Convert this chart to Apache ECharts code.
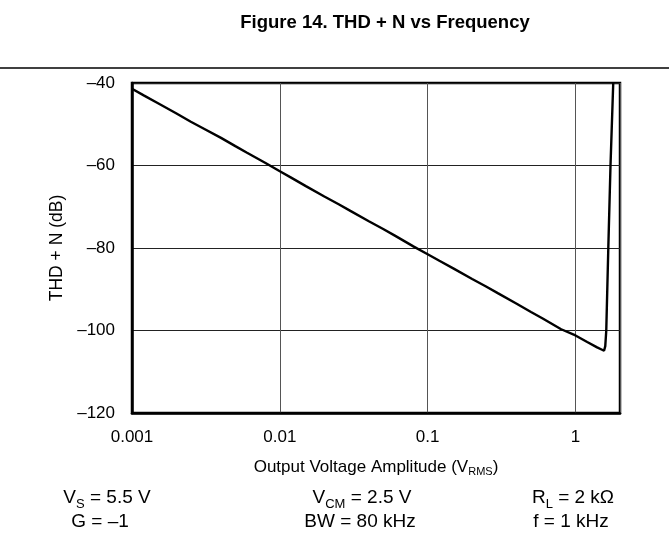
<!DOCTYPE html>
<html>
<head>
<meta charset="utf-8">
<script src="https://cdn.jsdelivr.net/npm/echarts@6/dist/echarts.min.js"></script>
<style>
  html, body { margin: 0; padding: 0; background: #fff; }
  #chart { width: 669px; height: 539px; }
</style>
</head>
<body>
<div id="chart"></div>
<script>
// output voltage (Vrms) and THD+N (dB)
var voltages = [0.001, 0.0012, 0.0015, 0.002, 0.0025, 0.003, 0.004, 0.005, 0.006, 0.008,
  0.01, 0.012, 0.015, 0.02, 0.025, 0.03, 0.04, 0.05, 0.06, 0.08,
  0.1, 0.12, 0.15, 0.2, 0.25, 0.3, 0.4, 0.5, 0.6, 0.8,
  1.0, 1.2, 1.4, 1.5, 1.56, 1.59, 1.615, 1.667, 1.725, 1.8];
var thdn = [-41.4, -43.0, -44.9, -47.4, -49.4, -50.9, -53.3, -55.3, -56.9, -59.4,
  -61.4, -63.0, -65.0, -67.5, -69.4, -71.0, -73.5, -75.4, -77.0, -79.6,
  -81.5, -83.1, -85.0, -87.5, -89.4, -91.0, -93.5, -95.5, -97.1, -99.7,
  -101.2, -102.8, -104.1, -104.6, -104.9, -103.8, -100, -80, -60, -40];
var xTickLabels = ['0.001', '0.01', '0.1', '1'];
var yTicks = [-120, -100, -80, -60, -40];

var font = '"Liberation Sans", Arial, sans-serif';
var myChart = echarts.init(document.getElementById('chart'));

var pts = [];
for (var i = 0; i < voltages.length; i++) {
  pts.push([voltages[i], thdn[i]]);
}

var condStyle = {
  fontFamily: font, fontSize: 19, fill: '#000', align: 'center', verticalAlign: 'middle',
  rich: {
    m: { fontFamily: font, fontSize: 19, lineHeight: 22, verticalAlign: 'top' },
    s: { fontFamily: font, fontSize: 13, lineHeight: 13, padding: [10, 0, 0, 0], verticalAlign: 'top' }
  }
};
function cond(x, y, txt) {
  return { type: 'text', x: x, y: y, style: Object.assign({}, condStyle, { text: txt }) };
}

myChart.setOption({
  animation: false,
  backgroundColor: '#fff',
  title: {
    text: 'Figure 14. THD + N vs Frequency',
    left: 380, top: 8, textAlign: 'center',
    textStyle: { fontFamily: font, fontSize: 18.5, fontWeight: 'bold', color: '#000' }
  },
  grid: {
    left: 132, right: 49, top: 83, bottom: 126,
    show: true, borderColor: '#000', borderWidth: 2.5, backgroundColor: 'transparent'
  },
  xAxis: {
    type: 'log', logBase: 10, min: 0.001, max: 2,
    name: '{m|Output Voltage Amplitude (V}{s|RMS}{m|)}',
    nameLocation: 'middle', nameGap: 45,
    nameTextStyle: {
      fontFamily: font, fontSize: 17, color: '#000',
      rich: {
        m: { fontFamily: font, fontSize: 17, color: '#000' },
        s: { fontFamily: font, fontSize: 11, color: '#000', padding: [8, 0, 0, 0] }
      }
    },
    axisLine: { lineStyle: { color: '#000', width: 2.5 } },
    axisTick: { show: false },
    axisLabel: {
      margin: 16, fontFamily: font, fontSize: 17, color: '#000',
      formatter: function (v) {
        var e = Math.log10(v);
        var k = Math.round(e);
        if (Math.abs(e - k) > 1e-6) return '';
        return xTickLabels[k + 3] || '';
      }
    },
    splitLine: { show: true, lineStyle: { color: '#555', width: 1 } }
  },
  yAxis: {
    type: 'value', min: -120, max: -40, interval: 20,
    name: 'THD + N (dB)', nameLocation: 'middle', nameGap: 62,
    nameTextStyle: { fontFamily: font, fontSize: 17.5, color: '#000' },
    axisLine: { show: true, lineStyle: { color: '#000', width: 2.5 } },
    axisTick: { show: false },
    axisLabel: {
      margin: 17, fontFamily: font, fontSize: 17, color: '#000',
      formatter: function (v) {
        return yTicks.indexOf(v) >= 0 ? String(v).replace('-', '\u2013') : '';
      }
    },
    splitLine: { show: true, lineStyle: { color: '#222', width: 1 } }
  },
  series: [{
    type: 'line',
    data: pts,
    showSymbol: false,
    smooth: false,
    lineStyle: { color: '#000', width: 2.4 }
  }],
  graphic: [
    { type: 'line', shape: { x1: 0, y1: 68, x2: 669, y2: 68 }, style: { stroke: '#000', lineWidth: 1.5 } },
    cond(107, 499, '{m|V}{s|S}{m| = 5.5 V}'),
    cond(362, 499, '{m|V}{s|CM}{m| = 2.5 V}'),
    cond(573, 499, '{m|R}{s|L}{m| = 2 k\u03A9}'),
    cond(100, 523, '{m|G = \u20131}'),
    cond(360, 523, '{m|BW = 80 kHz}'),
    cond(571, 523, '{m|f = 1 kHz}')
  ]
});
window.onresize = function () {
  myChart.resize();
};
</script>
</body>
</html>
